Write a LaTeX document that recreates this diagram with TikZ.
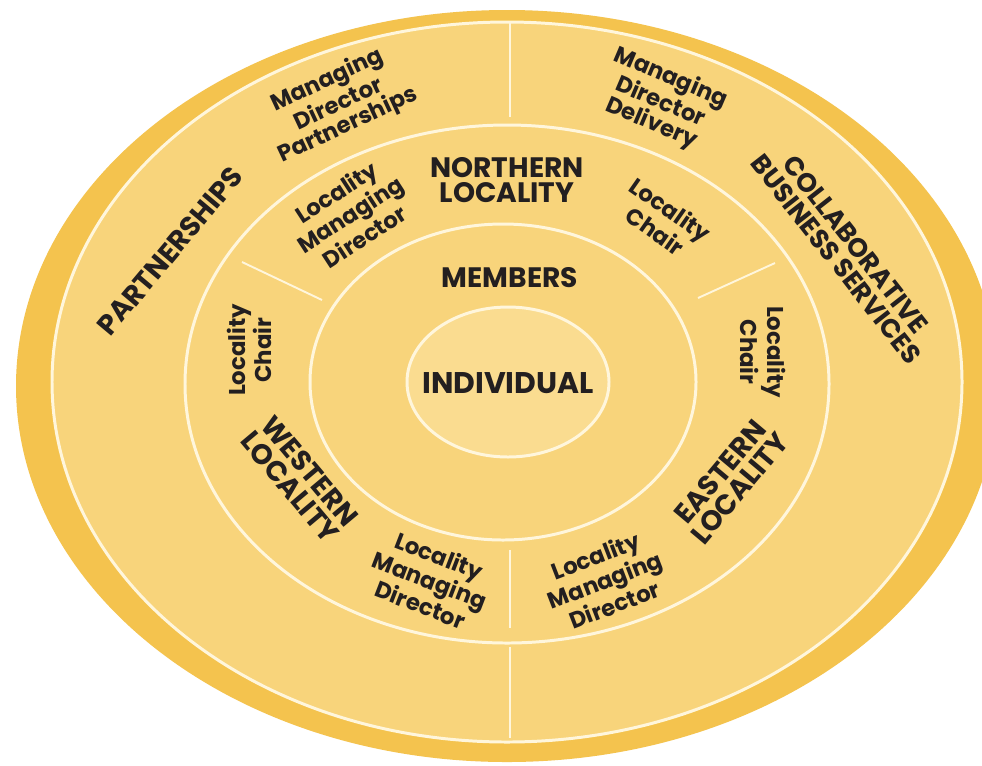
\documentclass[tikz,border=0pt]{standalone}
\usepackage{fontspec}
\setmainfont{Poppins}
\usetikzlibrary{calc,math}
\definecolor{bandgold}{HTML}{F4C34E}
\definecolor{ringfill}{HTML}{F8D47B}
\definecolor{corefill}{HTML}{FADC90}
\definecolor{creamline}{HTML}{FFF6DC}
\definecolor{inkgray}{HTML}{231F20}

\begin{document}
\begin{tikzpicture}[x=0.02cm,y=-0.02cm,
ring/.style={draw=creamline,line width=1.7pt},
divider/.style={draw=creamline,line width=1.1pt},
big/.style={text=inkgray,align=center,inner sep=0pt,font=\fontsize{16}{14.5}\selectfont\bfseries},
small/.style={text=inkgray,align=center,inner sep=0pt,font=\fontsize{13}{13}\selectfont\bfseries}]
\clip (0,0) rectangle (982,765);
\fill[white] (0,0) rectangle (982,765);
\fill[bandgold] (507,386) ellipse [x radius=491,y radius=376];
\filldraw[fill=ringfill,ring] (507,382) ellipse [x radius=455,y radius=360];
\draw[ring] (507,384) ellipse [x radius=322,y radius=259];
\draw[ring] (503,382) ellipse [x radius=193,y radius=158];
\filldraw[fill=corefill,ring] (508,382) ellipse [x radius=101,y radius=75];
\foreach \ya/\yb in {22/117,550/628,647/738}{
	\draw[divider] (510,\ya) -- (510,\yb);
}
\draw[divider] (242,262) -- (322,300);
\draw[divider] (698,298) -- (775,263);
\node[big,rotate=50] (prt) at (170,251) {PARTNERSHIPS};
\node[small,rotate=25] (mdp) at (338,103) {Managing\\Director\\Partnerships};
\node[small,rotate=-23] (mdd) at (661,101) {Managing\\Director\\Delivery};
\node[big,rotate=-52,font=\fontsize{15}{14}\selectfont\bfseries] (cbs) at (846,252) {COLLABORATIVE\\BUSINESS SERVICES};
\node[big] (nl) at (507,180) {NORTHERN\\LOCALITY};
\node[small,rotate=33] (nlmd) at (350,214) {Locality\\Managing\\Director};
\node[small,rotate=-35] (nlc) at (663,220) {Locality\\Chair};
\node[big] (mem) at (510,278) {MEMBERS};
\node[small,rotate=90] (wlc) at (249,350) {Locality\\Chair};
\node[small,rotate=-90] (elc) at (763,352) {Locality\\Chair};
\node[big,rotate=-50] (wl) at (300,479) {WESTERN\\LOCALITY};
\node[big,rotate=50] (el) at (730,480) {EASTERN\\LOCALITY};
\node[small,rotate=-21] (wlmd) at (430,580) {Locality\\Managing\\Director};
\node[small,rotate=21] (elmd) at (605,580) {Locality\\Managing\\Director};
\node[big,font=\fontsize{17}{17}\selectfont\bfseries] (ind) at (508,383) {INDIVIDUAL};
\end{tikzpicture}
\end{document}
